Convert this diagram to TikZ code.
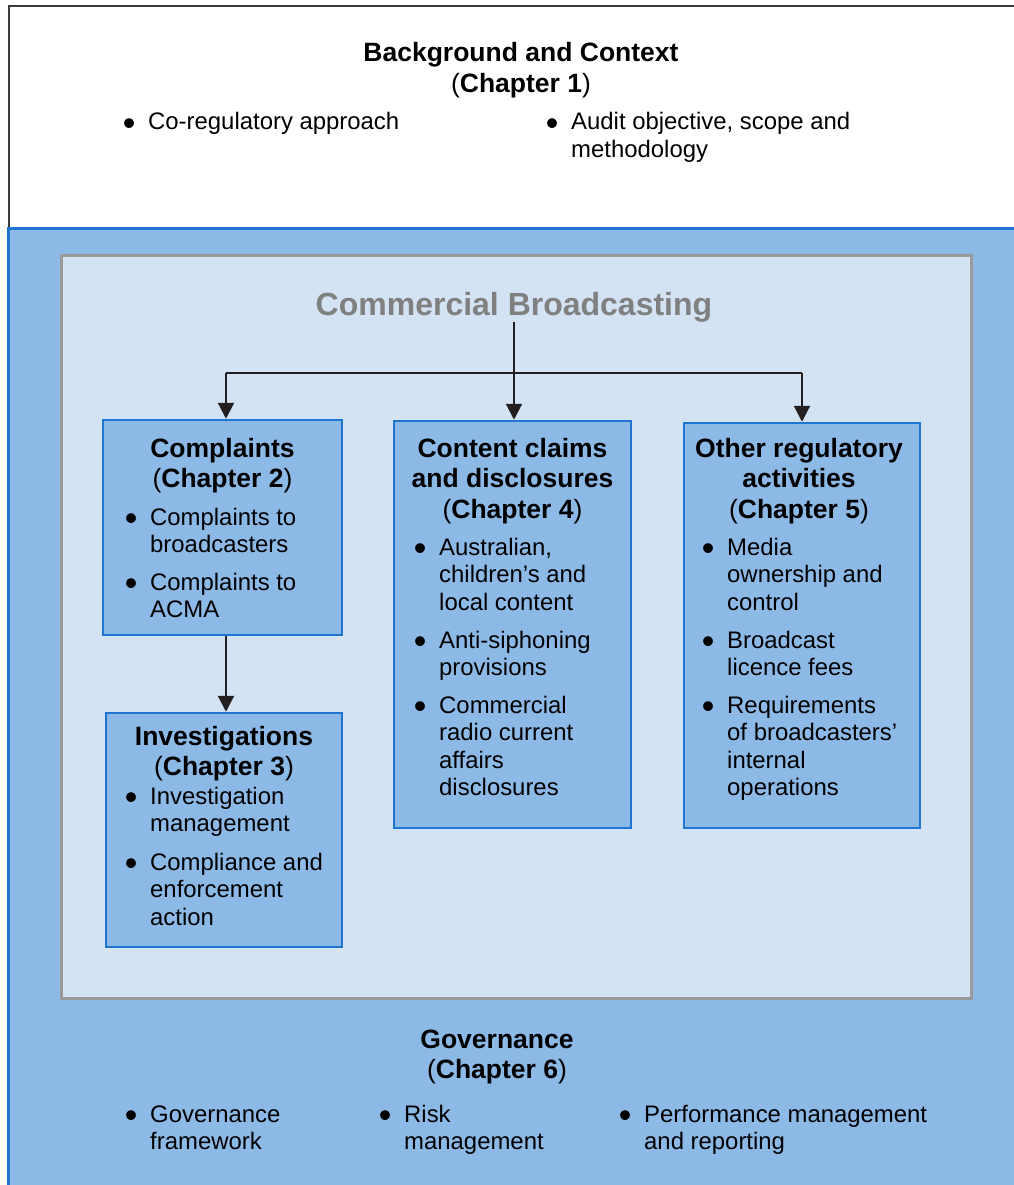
\documentclass[tikz,border=0pt]{standalone}
\usepackage{fontspec}
\setmainfont{Liberation Sans}
\usetikzlibrary{arrows.meta}
\definecolor{bluefill}{HTML}{8DB9E6}
\definecolor{lightfill}{HTML}{D3E3F4}
\definecolor{blueedge}{HTML}{1F75D2}
\definecolor{grayedge}{HTML}{9A9A9A}
\definecolor{titlegray}{HTML}{808080}
\definecolor{arrowcol}{HTML}{231F20}
\definecolor{topedge}{HTML}{3A3A3A}
\newcommand{\bodyfont}{\fontsize{23.9}{27.5}\selectfont}
\newcommand{\headfont}{\fontsize{26.5}{30.5}\selectfont}
\newcommand{\bl}[1]{\makebox[19pt][l]{\makebox[0pt]{\raisebox{-5.5pt}{\scalebox{1.5}{•}}}}\begin{tabular}[t]{@{}l@{}}#1\end{tabular}}
\newcommand{\hd}[1]{\begin{tabular}[t]{@{}c@{}}#1\end{tabular}}
\tikzset{
  chapbox/.style={draw=blueedge, line width=2.5pt, fill=bluefill, rectangle, inner sep=0pt},
  itemtext/.style={anchor=base west, inner sep=0pt, font=\bodyfont, text=black},
  headtext/.style={anchor=base, inner sep=0pt, font=\headfont, text=black},
  flow/.style={draw=arrowcol, line width=2.2pt, -{Triangle[length=16pt,width=16pt]}},
  flowline/.style={draw=arrowcol, line width=2.2pt},
}
\begin{document}
\begin{tikzpicture}[x=1pt,y=-1pt]
\useasboundingbox (0,0) rectangle (1013,1185);
\fill[white] (0,0) rectangle (1013,1185);
% top white area
\draw[topedge, line width=2pt] (1014,6) -- (9,6) -- (9,228);
% blue governance area
\fill[bluefill] (8,228) rectangle (1014,1186);
\draw[blueedge, line width=3pt] (8,1187) -- (8,228) -- (1014,228);
% inner light panel
\draw[grayedge, line width=3pt, fill=lightfill] (61,255) rectangle (971,998);

% top texts
\node[headtext] (bg) at (521,62) {\hd{\textbf{Background and Context}\\(\textbf{Chapter 1})}};
\node[itemtext] (bg1) at (129,130) {\bl{Co-regulatory approach}};
\node[itemtext] (bg2) at (552,130) {\bl{Audit objective, scope and\\methodology}};

% commercial broadcasting title
\node[anchor=base, inner sep=0pt, text=titlegray, font=\fontsize{32}{38}\selectfont\bfseries] (cb) at (514,315) {Commercial Broadcasting};

% boxes
\node[chapbox, minimum width=239pt, minimum height=215pt] (cmp) at (222.5,527.5) {};
\node[chapbox, minimum width=236pt, minimum height=234pt] (inv) at (224,830) {};
\node[chapbox, minimum width=237pt, minimum height=407pt] (cnt) at (512.5,624.5) {};
\node[chapbox, minimum width=236pt, minimum height=405pt] (oth) at (802,625.5) {};

% complaints
\node[headtext] (cmpt) at (222.5,457) {\hd{\textbf{Complaints}\\(\textbf{Chapter 2})}};
\node[itemtext] (cmp1) at (131,525) {\bl{Complaints to\\broadcasters}};
\node[itemtext] (cmp2) at (131,590) {\bl{Complaints to\\ACMA}};

% investigations
\node[headtext] (invt) at (224,745) {\hd{\textbf{Investigations}\\(\textbf{Chapter 3})}};
\node[itemtext] (inv1) at (131,804) {\bl{Investigation\\management}};
\node[itemtext] (inv2) at (131,870) {\bl{Compliance and\\enforcement\\action}};

% content
\node[headtext] (cntt) at (512.5,457) {\hd{\textbf{Content claims}\\\textbf{and disclosures}\\(\textbf{Chapter 4})}};
\node[itemtext] (cnt1) at (420,555) {\bl{Australian,\\children’s and\\local content}};
\node[itemtext] (cnt2) at (420,648) {\bl{Anti-siphoning\\provisions}};
\node[itemtext] (cnt3) at (420,713) {\bl{Commercial\\radio current\\affairs\\disclosures}};

% other
\node[headtext] (otht) at (799,457) {\hd{\textbf{Other regulatory}\\\textbf{activities}\\(\textbf{Chapter 5})}};
\node[itemtext] (oth1) at (708,555) {\bl{Media\\ownership and\\control}};
\node[itemtext] (oth2) at (708,648) {\bl{Broadcast\\licence fees}};
\node[itemtext] (oth3) at (708,713) {\bl{Requirements\\of broadcasters’\\internal\\operations}};

% governance
\node[headtext] (gov) at (497,1048) {\hd{\textbf{Governance}\\(\textbf{Chapter 6})}};
\node[itemtext] (gov1) at (131,1122) {\bl{Governance\\framework}};
\node[itemtext] (gov2) at (385,1122) {\bl{Risk\\management}};
\node[itemtext] (gov3) at (625,1122) {\bl{Performance management\\and reporting}};

% connectors
\coordinate (jl) at (226,373);
\coordinate (jr) at (802,373);
\draw[flow] (cb.south) -- (cb.south |- cnt.north);
\draw[flowline] (jl) -- (jr);
\draw[flow] (jl) -- (jl |- cmp.north);
\draw[flow] (jr) -- (jr |- oth.north);
\draw[flow] (jl |- cmp.south) -- (jl |- inv.north);
\end{tikzpicture}
\end{document}
